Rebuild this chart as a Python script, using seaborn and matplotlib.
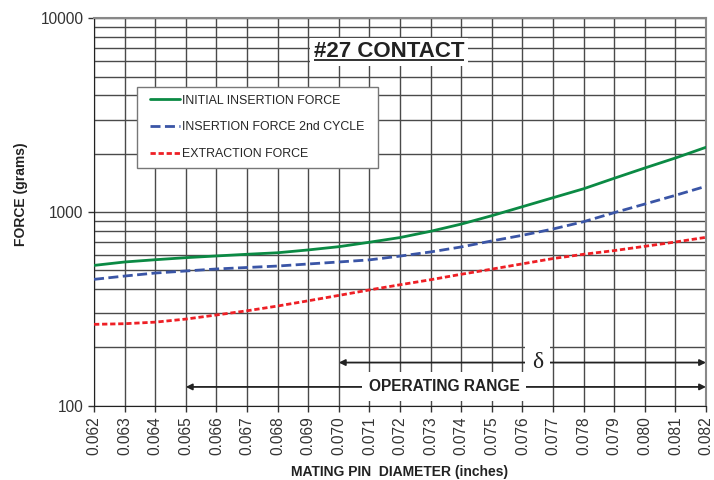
import pandas as pd
import matplotlib.pyplot as plt
import seaborn as sns
from matplotlib.lines import Line2D
from matplotlib.legend_handler import HandlerLine2D
from matplotlib.ticker import FixedLocator, LogLocator, NullFormatter

# data
diameter = [0.062, 0.063, 0.064, 0.065, 0.066, 0.067, 0.068, 0.069, 0.070, 0.071, 0.072,
            0.073, 0.074, 0.075, 0.076, 0.077, 0.078, 0.079, 0.080, 0.081, 0.082]
initial_insertion = [530, 552, 567, 581, 593, 605, 616, 637, 662, 698, 738,
                     795, 866, 957, 1065, 1185, 1318, 1493, 1687, 1900, 2158]
insertion_2nd = [449, 467, 484, 496, 508, 517, 526, 539, 552, 566, 592,
                 622, 660, 709, 758, 817, 891, 992, 1099, 1219, 1358]
extraction = [263, 265, 270, 280, 294, 309, 327, 348, 371, 396, 421,
              447, 477, 507, 540, 575, 605, 632, 665, 700, 740]

series_names = ["INITIAL INSERTION FORCE", "INSERTION FORCE 2nd CYCLE", "EXTRACTION FORCE"]
colors = ["#0b8a44", "#3a55a6", "#ee1f25"]
y_ticks = [100, 1000, 10000]
delta_range = (0.070, 0.082)
operating_range = (0.065, 0.082)

df = pd.concat([
    pd.DataFrame({"diameter": diameter, "force": vals, "series": name})
    for name, vals in zip(series_names, [initial_insertion, insertion_2nd, extraction])
])

sns.set_style("white")
plt.rcParams["font.family"] = ["Liberation Sans", "DejaVu Sans"]

fig = plt.figure(figsize=(7.14, 4.8), dpi=100)
ax = fig.add_axes([0.1317, 0.1548, 0.8571, 0.8071])

sns.lineplot(data=df, x="diameter", y="force", hue="series", style="series",
             palette=dict(zip(series_names, colors)),
             dashes={series_names[0]: "", series_names[1]: (3.6, 1.6), series_names[2]: (1.9, 1.0)},
             linewidth=2, legend=False, ax=ax, zorder=3)

ax.set_yscale("log")
ax.set_ylim(100, 10000)
ax.set_xlim(diameter[0], diameter[-1])
ax.xaxis.set_major_locator(FixedLocator(diameter))
ax.set_xticklabels([f"{d:.3f}" for d in diameter], rotation=90)
ax.yaxis.set_major_locator(FixedLocator(y_ticks))
ax.set_yticklabels([str(t) for t in y_ticks])
ax.yaxis.set_minor_locator(LogLocator(base=10, subs=range(2, 10)))
ax.yaxis.set_minor_formatter(NullFormatter())

ax.grid(which="both", color="#4a4a4a", linewidth=1.0)
ax.tick_params(axis="both", which="major", labelsize=11.2, labelcolor="#333333",
               length=4, width=1, color="#333333", direction="out", bottom=True, left=True)
ax.tick_params(axis="y", which="minor", length=0)
for side in ["left", "bottom"]:
    ax.spines[side].set_color("#222222")
for side in ["top", "right"]:
    ax.spines[side].set_color("#888888")
    ax.spines[side].set_linewidth(1.5)

ax.set_xlabel("MATING PIN  DIAMETER (inches)", fontsize=10, fontweight="bold", color="#222222")
ax.set_ylabel("FORCE (grams)", fontsize=10, fontweight="bold", color="#222222")
ax.xaxis.set_label_coords(0.5, -0.152)
ax.yaxis.set_label_coords(-0.108, 0.546)

# legend
handles = ax.get_lines()[:3]
leg = ax.legend(handles, series_names, loc="upper left",
                bbox_to_anchor=(0.070, 0.613, 0.394, 0.209), mode="expand",
                borderaxespad=0, fontsize=8.9, handlelength=2.9, handletextpad=0.15,
                labelspacing=1.2, borderpad=0.6, fancybox=False, framealpha=1,
                edgecolor="#777777", handler_map={Line2D: HandlerLine2D(xpad=0.5)})
leg.get_frame().set_linewidth(1.0)
leg.set_zorder(5)

# title with white box and underline
title = ax.text(0.482, 0.8993, "#27 CONTACT", transform=ax.transAxes, ha="center",
                va="baseline", fontsize=16, fontweight="bold", color="#222222", zorder=6,
                bbox=dict(facecolor="white", edgecolor="none", boxstyle="square,pad=0.15"))
fig.canvas.draw()
bb = title.get_window_extent(fig.canvas.get_renderer())
x0, _ = ax.transAxes.inverted().transform((bb.x0, bb.y0))
x1, _ = ax.transAxes.inverted().transform((bb.x1, bb.y0))
base_px = ax.transAxes.transform((0, 0.8993))[1]
_, y_ul = ax.transAxes.inverted().transform((0, base_px - 2.8))
ax.plot([x0, x1], [y_ul, y_ul], transform=ax.transAxes, color="#222222", lw=1.3,
        solid_capstyle="butt", clip_on=False, zorder=7)

# range arrows
arrow_kw = dict(arrowstyle="<|-|>", color="#222222", lw=1.3, shrinkA=0, shrinkB=0,
                mutation_scale=9)
ax.annotate("", xy=(delta_range[1], 167), xytext=(delta_range[0], 167),
            arrowprops=arrow_kw, zorder=4)
ax.text(0.0765, 167, "δ", ha="center", va="center", fontsize=17,
        family=["Liberation Serif", "DejaVu Serif"], color="#222222", zorder=6,
        bbox=dict(facecolor="white", edgecolor="none", boxstyle="square,pad=0.3"))
ax.annotate("", xy=(operating_range[1], 125), xytext=(operating_range[0], 125),
            arrowprops=arrow_kw, zorder=4)
ax.text(0.07344, 125, "OPERATING RANGE", ha="center", va="center", fontsize=11.2,
        fontweight="bold", color="#222222", zorder=6,
        bbox=dict(facecolor="white", edgecolor="none", boxstyle="square,pad=0.45"))

plt.savefig("out.png", dpi=100)
